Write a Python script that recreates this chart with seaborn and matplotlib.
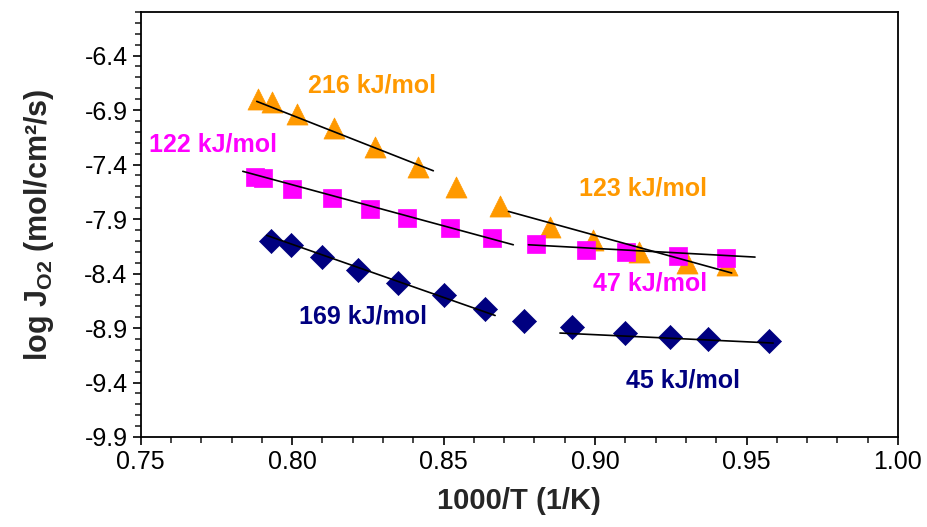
import numpy as np
import pandas as pd
import seaborn as sns
import matplotlib
matplotlib.use("Agg")
import matplotlib.pyplot as plt
from matplotlib.ticker import MultipleLocator, FormatStrFormatter

tri_x = [0.7886, 0.7932, 0.8015, 0.8138, 0.8274, 0.8416, 0.8541, 0.8686, 0.8851, 0.8994, 0.9146, 0.9303, 0.9436]
tri_y = [-6.80, -6.83, -6.94, -7.06, -7.24, -7.42, -7.61, -7.78, -7.97, -8.09, -8.20, -8.30, -8.32]

sq_x = [0.7877, 0.7905, 0.7998, 0.8131, 0.8257, 0.8380, 0.8521, 0.8659, 0.8805, 0.8970, 0.9102, 0.9273, 0.9432]
sq_y = [-7.51, -7.52, -7.62, -7.71, -7.81, -7.89, -7.98, -8.07, -8.13, -8.18, -8.20, -8.24, -8.26]

dia_x = [0.7929, 0.7995, 0.8098, 0.8218, 0.8350, 0.8502, 0.8637, 0.8766, 0.8925, 0.9099, 0.9247, 0.9374, 0.9574]
dia_y = [-8.10, -8.14, -8.25, -8.37, -8.49, -8.60, -8.73, -8.84, -8.89, -8.95, -8.98, -9.00, -9.02]

# trendline segments (start, end)
fit_x = [[0.7883, 0.8466], [0.8714, 0.9451], [0.7837, 0.8730], [0.8780, 0.9528], [0.7916, 0.8670], [0.8884, 0.9588]]
fit_y = [[-6.820, -7.457], [-7.830, -8.395], [-7.462, -8.136], [-8.136, -8.249], [-8.050, -8.785], [-8.946, -9.038]]

# activation energy labels
lab_text = ["216 kJ/mol", "123 kJ/mol", "122 kJ/mol", "47 kJ/mol", "169 kJ/mol", "45 kJ/mol"]
lab_x = [0.8265, 0.9159, 0.7737, 0.9181, 0.8235, 0.9289]
lab_y = [-6.675, -7.621, -7.217, -8.494, -8.794, -9.384]

orange = "#FF9900"
magenta = "#FF00FF"
navy = "#000080"
lab_color = [orange, orange, magenta, magenta, navy, navy]

sns.set_style("ticks")
plt.rcParams['font.family'] = ['Liberation Sans', 'DejaVu Sans']
plt.rcParams['mathtext.default'] = 'regular'

fig = plt.figure(figsize=(9.27, 5.27), dpi=100)
ax = fig.add_axes([0.1518, 0.1708, 0.8169, 0.8064])

df = pd.concat([
    pd.DataFrame({"x": tri_x, "y": tri_y, "set": "tri"}),
    pd.DataFrame({"x": sq_x, "y": sq_y, "set": "sq"}),
    pd.DataFrame({"x": dia_x, "y": dia_y, "set": "dia"}),
])

sizes = {"tri": 230, "sq": 180, "dia": 150}
markers = {"tri": "^", "sq": "s", "dia": "D"}
colors = {"tri": orange, "sq": magenta, "dia": navy}
for name in ["tri", "sq", "dia"]:
    sub = df[df["set"] == name]
    sns.scatterplot(data=sub, x="x", y="y", marker=markers[name], s=sizes[name],
                    color=colors[name], edgecolor=colors[name], linewidth=0.5,
                    ax=ax, legend=False, zorder=3)

for fx, fy in zip(fit_x, fit_y):
    sns.lineplot(x=fx, y=fy, color="black", linewidth=1.2, ax=ax, zorder=4)

for t, x, y, c in zip(lab_text, lab_x, lab_y, lab_color):
    ax.text(x, y, t, color=c, fontsize=18, fontweight="bold", ha="center", va="center")

ax.set_xlim(0.75, 1.00)
ax.set_ylim(-9.9, -6.0)
ax.xaxis.set_major_locator(MultipleLocator(0.05))
ax.xaxis.set_minor_locator(MultipleLocator(0.01))
ax.xaxis.set_major_formatter(FormatStrFormatter("%.2f"))
ax.set_yticks(np.arange(-9.9, -6.3, 0.5))
ax.yaxis.set_minor_locator(MultipleLocator(0.1))
ax.yaxis.set_major_formatter(FormatStrFormatter("%.1f"))
ax.tick_params(which="major", direction="out", length=6, width=1.2, labelsize=18, colors="black")
ax.tick_params(which="minor", direction="out", length=4.5, width=1.2)

for sp in ax.spines.values():
    sp.set_visible(True)
    sp.set_linewidth(1.3)
    sp.set_color("black")

ax.set_xlabel("1000/T (1/K)", fontsize=21, fontweight="bold", labelpad=9)
ax.set_ylabel(r"log J$_{\mathregular{O2}}$ (mol/cm²/s)", fontsize=22, fontweight="bold", labelpad=20)

fig.savefig("out.png", dpi=100)
